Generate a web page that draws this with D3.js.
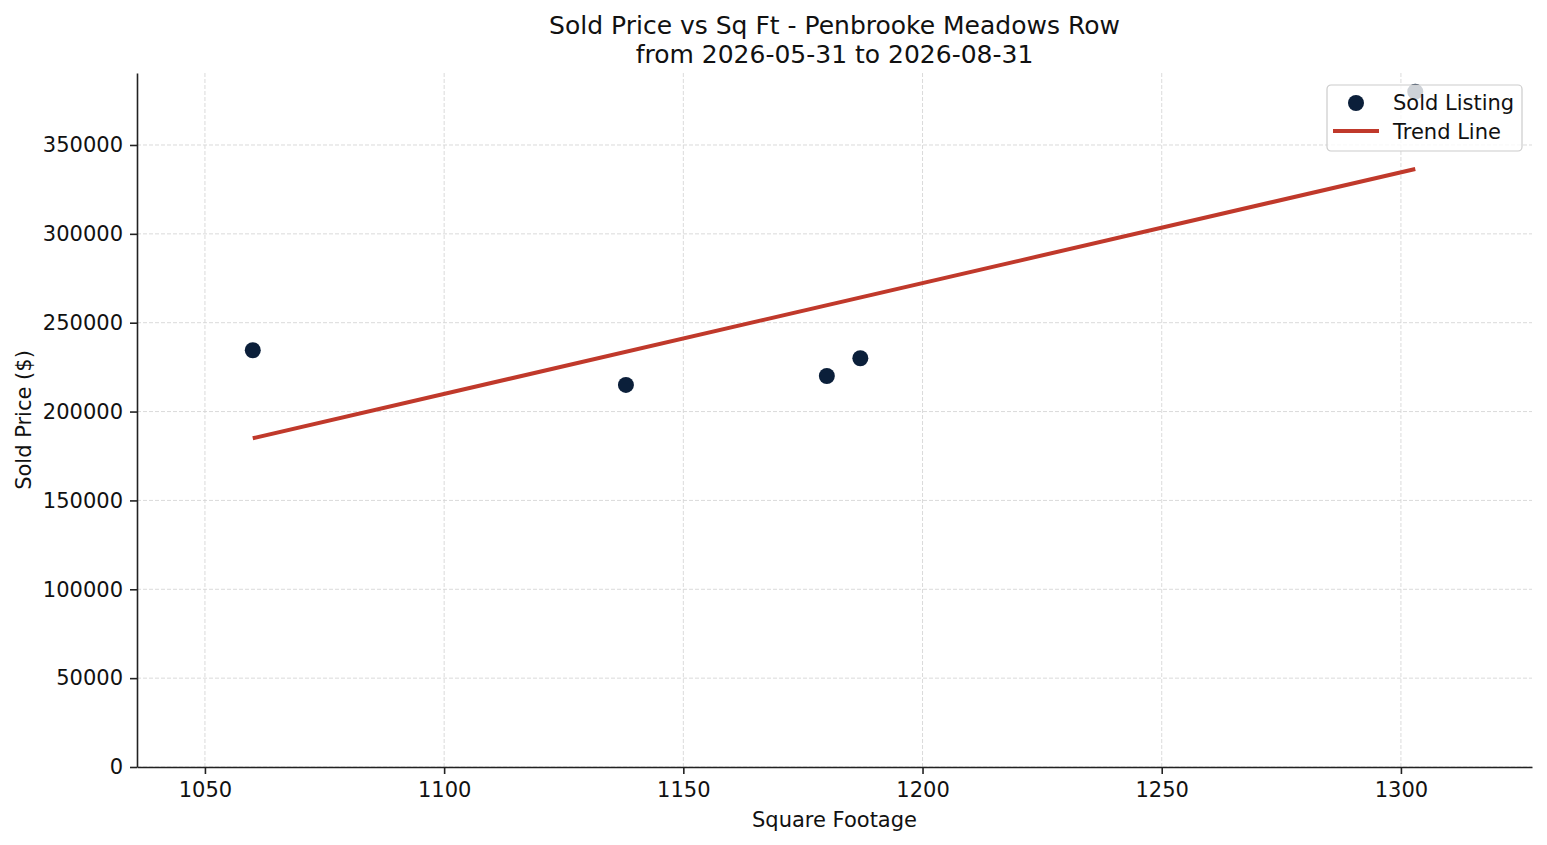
<!DOCTYPE html>
<html>
<head>
<meta charset="utf-8">
<script src="https://cdn.jsdelivr.net/npm/d3@7"></script>
<style>
  body { margin: 0; background: #fff; }
  svg { font-family: "DejaVu Sans", sans-serif; }
</style>
</head>
<body>
<div id="chart"></div>
<script>
// Sold listings (square footage vs sold price)
const sqft = [1060, 1138, 1180, 1187, 1303];
const price = [234500, 215000, 220000, 230000, 380000];

// Trend line end points
const trendX = [1060, 1303];
const trendY = [185000, 336500];

const xTicks = [1050, 1100, 1150, 1200, 1250, 1300];
const yTicks = [0, 50000, 100000, 150000, 200000, 250000, 300000, 350000];

const titleLines = ["Sold Price vs Sq Ft - Penbrooke Meadows Row", "from 2026-05-31 to 2026-08-31"];

const width = 1547, height = 845;
const margin = { top: 73, right: 15, bottom: 78, left: 137 };
const fontSize = "21px";

const svg = d3.select("#chart").append("svg")
    .attr("width", width)
    .attr("height", height);

const x = d3.scaleLinear()
    .domain([1035.8, 1327.4])
    .range([margin.left, width - margin.right]);

const y = d3.scaleLinear()
    .domain([0, 390500])
    .range([height - margin.bottom, margin.top]);

// grid
svg.append("g").selectAll("line")
    .data(xTicks).enter().append("line")
    .attr("x1", d => x(d)).attr("x2", d => x(d))
    .attr("y1", y.range()[0]).attr("y2", y.range()[1])
    .attr("stroke", "#d6d6d6").attr("stroke-width", 0.9)
    .attr("stroke-dasharray", "4,2");

svg.append("g").selectAll("line")
    .data(yTicks).enter().append("line")
    .attr("x1", x.range()[0]).attr("x2", x.range()[1])
    .attr("y1", d => y(d)).attr("y2", d => y(d))
    .attr("stroke", "#d6d6d6").attr("stroke-width", 0.9)
    .attr("stroke-dasharray", "4,2");

// axes
const xAxis = svg.append("g")
    .attr("transform", `translate(0,${height - margin.bottom})`)
    .call(d3.axisBottom(x).tickValues(xTicks).tickFormat(d3.format("d")).tickSize(7).tickPadding(7).tickSizeOuter(0));

const yAxis = svg.append("g")
    .attr("transform", `translate(${margin.left},0)`)
    .call(d3.axisLeft(y).tickValues(yTicks).tickFormat(d3.format("d")).tickSize(7).tickPadding(7).tickSizeOuter(0));

[xAxis, yAxis].forEach(g => {
    g.select(".domain").attr("stroke", "#222").attr("stroke-width", 1.6);
    g.selectAll(".tick line").attr("stroke", "#222").attr("stroke-width", 1.6);
    g.selectAll(".tick text")
        .attr("fill", "#111")
        .style("font-size", fontSize)
        .style("font-family", "DejaVu Sans");
});
xAxis.selectAll(".tick text").attr("dy", "0.75em");

// trend line
const line = d3.line().x(d => x(d[0])).y(d => y(d[1]));
svg.append("path")
    .datum(trendX.map((d, i) => [d, trendY[i]]))
    .attr("d", line)
    .attr("fill", "none")
    .attr("stroke", "#c0392b")
    .attr("stroke-width", 4);

// points
svg.append("g").selectAll("circle")
    .data(sqft).enter().append("circle")
    .attr("cx", d => x(d))
    .attr("cy", (d, i) => y(price[i]))
    .attr("r", 8)
    .attr("fill", "#0b1f3a");

// titles
svg.append("g").selectAll("text")
    .data(titleLines).enter().append("text")
    .attr("x", (x.range()[0] + x.range()[1]) / 2)
    .attr("y", (d, i) => 34 + i * 28.5)
    .attr("text-anchor", "middle")
    .style("font-size", "25px")
    .attr("fill", "#111")
    .text(d => d);

svg.append("text")
    .attr("x", (x.range()[0] + x.range()[1]) / 2)
    .attr("y", 827)
    .attr("text-anchor", "middle")
    .style("font-size", fontSize)
    .attr("fill", "#111")
    .text("Square Footage");

svg.append("text")
    .attr("transform", `translate(31,${(y.range()[0] + y.range()[1]) / 2}) rotate(-90)`)
    .attr("text-anchor", "middle")
    .style("font-size", fontSize)
    .attr("fill", "#111")
    .text("Sold Price ($)");

// legend
const legend = svg.append("g").attr("transform", "translate(1327,85)");
legend.append("rect")
    .attr("width", 195).attr("height", 66)
    .attr("rx", 4)
    .attr("fill", "#fff").attr("fill-opacity", 0.8)
    .attr("stroke", "#cccccc").attr("stroke-width", 1.2);
legend.append("circle")
    .attr("cx", 29).attr("cy", 18).attr("r", 8)
    .attr("fill", "#0b1f3a");
legend.append("line")
    .attr("x1", 6).attr("x2", 52).attr("y1", 46).attr("y2", 46)
    .attr("stroke", "#c0392b").attr("stroke-width", 4);
legend.append("text")
    .attr("x", 66).attr("y", 25)
    .style("font-size", fontSize).attr("fill", "#111")
    .text("Sold Listing");
legend.append("text")
    .attr("x", 66).attr("y", 54)
    .style("font-size", fontSize).attr("fill", "#111")
    .text("Trend Line");
</script>
</body>
</html>
